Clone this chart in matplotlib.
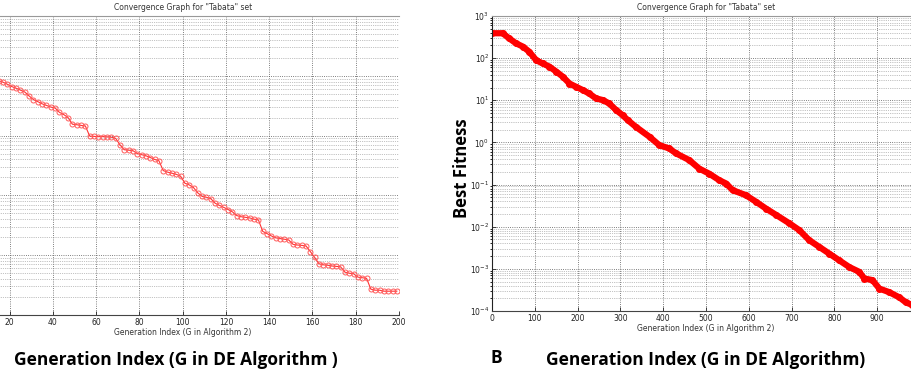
import numpy as np
import matplotlib
matplotlib.use("Agg")
import matplotlib.pyplot as plt
from matplotlib.ticker import LogLocator, NullFormatter

# left panel: best fitness every other generation
gen_a = np.arange(1, 200, 2)
fit_a = [14, 13, 12, 11.2, 10.3, 9.6, 8.9, 8.3, 7.8, 7.2,
         6.6, 6.2, 5.75, 5.35, 4.6, 4.0, 3.7, 3.4, 3.2, 3.0,
         2.9, 2.45, 2.25, 2.0, 1.55, 1.52, 1.48, 1.45, 0.98, 0.97,
         0.96, 0.96, 0.95, 0.94, 0.90, 0.70, 0.58, 0.57, 0.56, 0.50,
         0.48, 0.46, 0.43, 0.40, 0.38, 0.26, 0.245, 0.235, 0.225, 0.21,
         0.16, 0.15, 0.135, 0.11, 0.096, 0.093, 0.088, 0.074, 0.068, 0.063,
         0.058, 0.053, 0.046, 0.044, 0.043, 0.042, 0.040, 0.039, 0.025, 0.023,
         0.021, 0.0195, 0.019, 0.0185, 0.018, 0.0152, 0.0148, 0.0146, 0.0143, 0.0115,
         0.0092, 0.0072, 0.0069, 0.0068, 0.0066, 0.0065, 0.0064, 0.0052, 0.0050, 0.0049,
         0.0043, 0.0042, 0.0041, 0.0027, 0.0026, 0.0026, 0.0025, 0.0025, 0.0025, 0.0025]

# right panel: best fitness at read-off generations
gen_b = [0, 25, 40, 56, 72, 87, 103, 118, 134, 150, 165, 181, 196, 212, 227,
         243, 259, 274, 290, 305, 317, 336, 368, 391, 414, 430, 461, 484, 508,
         531, 547, 562, 593, 617, 640, 664, 695, 718, 741, 765, 788, 811, 835,
         858, 870, 889, 905, 928, 952, 967, 981, 1000]
fit_b = [390, 390, 295, 225, 188, 142, 90, 75, 63, 48, 36.6, 25, 21, 17.5, 14.5,
         11.1, 10.1, 8.4, 5.85, 4.45, 3.4, 2.35, 1.36, 0.86, 0.72, 0.55, 0.38, 0.24, 0.18,
         0.127, 0.106, 0.074, 0.056, 0.039, 0.027, 0.019, 0.012, 0.0083, 0.0048, 0.0033,
         0.0023, 0.0016, 0.0011, 0.00085, 0.00059, 0.00054, 0.00034, 0.00028, 0.00021,
         0.00016, 0.00014, 0.00012]

small_title = 'Convergence Graph for "Tabata" set'
small_xlabel = "Generation Index (G in Algorithm 2)"

W, H = 912, 392
fig = plt.figure(figsize=(W / 100, H / 100), dpi=100)


def style_axes(ax):
    ax.set_yscale("log")
    ax.yaxis.set_major_locator(LogLocator(base=10, numticks=20))
    ax.yaxis.set_minor_locator(LogLocator(base=10, subs=np.arange(2, 10), numticks=20))
    ax.yaxis.set_minor_formatter(NullFormatter())
    ax.grid(True, which="major", linestyle=":", color="#555555", linewidth=0.6)
    ax.grid(True, which="minor", axis="y", linestyle=":", color="#888888", linewidth=0.5)
    ax.tick_params(labelsize=5.5, length=3, width=0.6, direction="in", pad=2,
                   colors="#222222")
    ax.tick_params(which="minor", length=1.5)
    ax.spines["top"].set_color("#999999")
    ax.spines["right"].set_visible(False)
    ax.spines["left"].set_color("#222222")
    ax.spines["bottom"].set_color("#444444")
    ax.set_title(small_title, fontsize=5.5, pad=4, color="#333333")
    ax.set_xlabel(small_xlabel, fontsize=5.5, labelpad=1, color="#333333")


# left axes (partly cut off by the figure edge)
ax1 = fig.add_axes([-33.6 / W, (H - 315) / H, 432.6 / W, 299 / H])
ax1.plot(gen_a, fit_a, color="#ff3333", linewidth=0.8, marker="o", markersize=3.6,
         markerfacecolor="none", markeredgecolor="#ff5a5a", markeredgewidth=0.7)
ax1.set_xlim(0, 200)
ax1.set_ylim(1e-3, 1e2)
ax1.set_xticks(np.arange(0, 201, 20))
ax1.set_xticklabels([""] + [str(v) for v in range(20, 201, 20)])
style_axes(ax1)
ax1.tick_params(axis="y", labelleft=False)

# right axes (partly cut off on the right)
ax2 = fig.add_axes([492 / W, (H - 311) / H, 428 / W, 295 / H])
ax2.plot(gen_b, fit_b, color="red", linewidth=4.5, solid_capstyle="round",
         marker="o", markersize=4, markerfacecolor="red", markeredgecolor="red")
ax2.set_xlim(0, 1000)
ax2.set_ylim(1e-4, 1e3)
ax2.set_xticks(np.arange(0, 1001, 100))
ax2.set_xticklabels([str(v) for v in range(0, 1000, 100)] + [""])
style_axes(ax2)

big = dict(fontsize=12.5, fontweight="bold", family=["Open Sans", "DejaVu Sans"],
           color="black")
fig.text(14 / W, 1 - 360 / H, "Generation Index (G in DE Algorithm )", ha="left",
         va="center", **big)
fig.text(491 / W, 1 - 358 / H, "B", ha="left", va="center", **big)
fig.text(706 / W, 1 - 360 / H, "Generation Index (G in DE Algorithm)", ha="center",
         va="center", **big)
fig.text(462 / W, 1 - 168 / H, "Best Fitness", rotation=90, ha="center",
         va="center", fontsize=12, fontweight="bold",
         family=["Open Sans", "DejaVu Sans"], color="black")

fig.savefig("out.png", dpi=100)
